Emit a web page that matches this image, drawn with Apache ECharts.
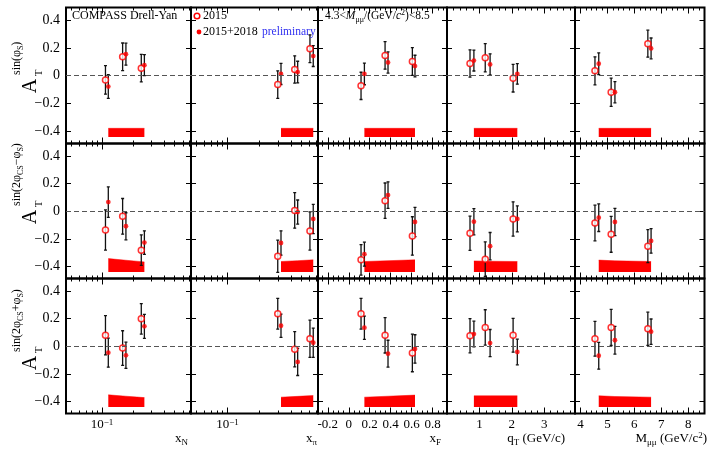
<!DOCTYPE html>
<html>
<head>
<meta charset="utf-8">
<script src="https://cdn.jsdelivr.net/npm/echarts@6/dist/echarts.min.js"></script>
<style>
html,body{margin:0;padding:0;background:#fff;}
#chart{width:708px;height:450px;}
</style>
</head>
<body>
<div id="chart"></div>
<script>
var SERIF = 'Liberation Serif';
var RED = '#ff0000';

// mean kinematic value of each bin (2015 / 2015+2018)
var xN_2015 = [0.108, 0.158, 0.239];
var xN_comb = [0.115, 0.170, 0.256];
var xPi_2015 = [0.299, 0.433, 0.604];
var xPi_comb = [0.321, 0.462, 0.649];
var xF_2015 = [0.117, 0.346, 0.606];
var xF_comb = [0.149, 0.374, 0.631];
var qT_2015 = [0.71, 1.18, 2.04];
var qT_comb = [0.83, 1.33, 2.17];
var mMuMu_2015 = [4.54, 5.14, 6.50];
var mMuMu_comb = [4.68, 5.28, 6.62];

// A_T^sin(phi_S), one inner array per column (xN, xPi, xF, qT, M)
var sinPhiS_2015 = [[-0.030, 0.136, 0.054], [-0.064, 0.045, 0.194], [-0.073, 0.146, 0.102], [0.088, 0.129, -0.018], [0.035, -0.119, 0.230]];
var sinPhiS_2015_err = [[0.103, 0.099, 0.099], [0.099, 0.098, 0.100], [0.098, 0.099, 0.100], [0.098, 0.102, 0.099], [0.101, 0.102, 0.097]];
var sinPhiS_comb = [[-0.078, 0.155, 0.076], [0.013, 0.026, 0.141], [0.013, 0.095, 0.069], [0.109, 0.081, 0.013], [0.086, -0.119, 0.196]];
var sinPhiS_comb_err = [[0.085, 0.079, 0.075], [0.076, 0.078, 0.075], [0.078, 0.076, 0.078], [0.075, 0.076, 0.074], [0.078, 0.076, 0.075]];
var sinPhiS_sys = [[0.062, 0.062, 0.062], [0.062, 0.062, 0.062], [0.062, 0.062, 0.062], [0.062, 0.062, 0.062], [0.062, 0.062, 0.062]];

// A_T^sin(2phi_CS - phi_S)
var sin2m_2015 = [[-0.136, -0.037, -0.282], [-0.326, 0.006, -0.143], [-0.352, 0.076, -0.179], [-0.160, -0.347, -0.056], [-0.085, -0.167, -0.253]];
var sin2m_2015_err = [[0.145, 0.129, 0.110], [0.117, 0.129, 0.138], [0.110, 0.128, 0.139], [0.124, 0.125, 0.124], [0.129, 0.130, 0.119]];
var sin2m_comb = [[0.066, -0.109, -0.227], [-0.230, -0.006, -0.056], [-0.311, 0.117, -0.078], [-0.076, -0.253, -0.056], [-0.047, -0.078, -0.215]];
var sin2m_comb_err = [[0.110, 0.098, 0.085], [0.088, 0.087, 0.106], [0.087, 0.096, 0.106], [0.095, 0.099, 0.094], [0.100, 0.099, 0.089]];
var sin2m_sys = [[0.097, 0.085, 0.073], [0.076, 0.082, 0.088], [0.076, 0.082, 0.088], [0.080, 0.078, 0.076], [0.086, 0.081, 0.076]];

// A_T^sin(2phi_CS + phi_S)
var sin2p_2015 = [[0.079, -0.013, 0.198], [0.235, -0.022, 0.054], [0.235, 0.079, -0.049], [0.076, 0.136, 0.079], [0.054, 0.136, 0.126]];
var sin2p_2015_err = [[0.142, 0.125, 0.110], [0.111, 0.128, 0.135], [0.111, 0.128, 0.136], [0.124, 0.128, 0.122], [0.126, 0.131, 0.120]];
var sin2p_comb = [[-0.047, -0.066, 0.144], [0.148, -0.114, 0.025], [0.134, -0.054, -0.020], [0.088, 0.023, -0.042], [-0.069, 0.043, 0.105]];
var sin2p_comb_err = [[0.105, 0.095, 0.087], [0.084, 0.098, 0.106], [0.084, 0.097, 0.103], [0.093, 0.098, 0.093], [0.097, 0.100, 0.092]];
var sin2p_sys = [[0.088, 0.078, 0.068], [0.071, 0.077, 0.083], [0.071, 0.078, 0.086], [0.081, 0.081, 0.081], [0.081, 0.076, 0.071]];

var sysBase = -0.44;
var yTickValues = [-0.4, -0.2, 0, 0.2, 0.4];

var x2015 = [xN_2015, xPi_2015, xF_2015, qT_2015, mMuMu_2015];
var xComb = [xN_comb, xPi_comb, xF_comb, qT_comb, mMuMu_comb];
var rows = [
  [sinPhiS_2015, sinPhiS_2015_err, sinPhiS_comb, sinPhiS_comb_err, sinPhiS_sys],
  [sin2m_2015, sin2m_2015_err, sin2m_comb, sin2m_comb_err, sin2m_sys],
  [sin2p_2015, sin2p_2015_err, sin2p_comb, sin2p_comb_err, sin2p_sys]
];

// layout
var gridLeft = [66, 191, 318, 447, 575];
var gridW = [125, 127, 129, 128, 129.5];
var gridTop = [7.5, 143.5, 278.5];
var gridH = [136, 135, 135];

var isLog = [true, true, false, false, false];
function tx(c, v) { return isLog[c] ? Math.log10(v) : v; }
var colRange = [
  [Math.log10(0.045), Math.log10(0.72)],
  [Math.log10(0.045), Math.log10(0.72)],
  [-0.293, 0.936],
  [0, 3.95],
  [3.8, 8.6]
];
function steps(a, b, s, skip) {
  var out = [];
  for (var v = a; v <= b + 1e-9; v += s) {
    var r = Math.round(v * 100) / 100;
    if (skip.indexOf(r) < 0) out.push(r);
  }
  return out;
}
var majorTicks = [[-1], [-1], [-0.2, 0, 0.2, 0.4, 0.6, 0.8], [1, 2, 3], [4, 5, 6, 7, 8]];
var logMinor = [0.05, 0.06, 0.07, 0.08, 0.09, 0.2, 0.3, 0.4, 0.5, 0.6, 0.7].map(Math.log10);
var minorTicks = [
  logMinor, logMinor,
  steps(-0.25, 0.9, 0.05, majorTicks[2]),
  steps(0.2, 3.8, 0.2, majorTicks[3]),
  steps(4.0, 8.4, 0.2, majorTicks[4])
];

function xLabelFmt(c) {
  return function (v) {
    if (c < 2) return '{b|10}{s|−1}';
    if (c === 2) return Math.abs(v) < 1e-9 ? '0' : v.toFixed(1);
    return String(v);
  };
}
function yLabelFmt(v) {
  if (Math.abs(v) < 1e-9) return '0';
  return (v < 0 ? '−' : '') + Math.abs(v).toFixed(1);
}

function renderErr(params, api) {
  var x = api.value(0), y = api.value(1), e = api.value(2);
  var top = api.coord([x, y + e]), bot = api.coord([x, y - e]);
  var w = 1.5;
  var st = { stroke: '#111', lineWidth: 1.3 };
  return {
    type: 'group',
    children: [
      { type: 'line', shape: { x1: top[0], y1: top[1], x2: bot[0], y2: bot[1] }, style: st },
      { type: 'line', shape: { x1: top[0] - w, y1: top[1], x2: top[0] + w, y2: top[1] }, style: st },
      { type: 'line', shape: { x1: bot[0] - w, y1: bot[1], x2: bot[0] + w, y2: bot[1] }, style: st }
    ]
  };
}

var grids = [], xAxes = [], yAxes = [], series = [];

function makeX(g, c, pos, major, withLabel) {
  return {
    type: 'value', gridIndex: g, position: pos, offset: 0,
    min: colRange[c][0], max: colRange[c][1],
    axisLine: { show: false, onZero: false },
    splitLine: { show: false },
    axisTick: {
      show: true, inside: true, length: major ? 6 : 3,
      customValues: major ? majorTicks[c] : minorTicks[c],
      lineStyle: { color: '#000', width: 1 }
    },
    axisLabel: withLabel ? {
      show: true, customValues: majorTicks[c], formatter: xLabelFmt(c),
      fontFamily: SERIF, fontSize: 13, color: '#000', margin: 5,
      rich: {
        b: { fontFamily: SERIF, fontSize: 13, color: '#000' },
        s: { fontFamily: SERIF, fontSize: 9, color: '#000', verticalAlign: 'top' }
      }
    } : { show: false }
  };
}
function makeY(g, c, pos, withLabel) {
  return {
    type: 'value', gridIndex: g, position: pos, offset: 0,
    min: -0.487, max: 0.49,
    axisLine: { show: false, onZero: false },
    splitLine: { show: false },
    axisTick: { show: true, inside: true, length: 5, customValues: yTickValues, lineStyle: { color: '#000', width: 1 } },
    axisLabel: withLabel ? {
      show: true, customValues: yTickValues, formatter: yLabelFmt,
      fontFamily: SERIF, fontSize: 14, color: '#000', margin: 6
    } : { show: false }
  };
}

for (var r = 0; r < 3; r++) {
  for (var c = 0; c < 5; c++) {
    var g = grids.length;
    grids.push({
      left: gridLeft[c], top: gridTop[r], width: gridW[c], height: gridH[r],
      show: true, borderColor: '#000', borderWidth: 2, backgroundColor: 'transparent',
      containLabel: false, outerBoundsMode: 'none'
    });
    var xa = xAxes.length, ya = yAxes.length;
    xAxes.push(makeX(g, c, 'bottom', true, r === 2));
    xAxes.push(makeX(g, c, 'bottom', false, false));
    xAxes.push(makeX(g, c, 'top', true, false));
    xAxes.push(makeX(g, c, 'top', false, false));
    yAxes.push(makeY(g, c, 'left', c === 0));
    yAxes.push(makeY(g, c, 'right', false));

    var d = rows[r];
    var v15 = d[0][c], e15 = d[1][c], vc = d[2][c], ec = d[3][c], sys = d[4][c];
    var xs15 = x2015[c], xsc = xComb[c];

    series.push({
      type: 'line', xAxisIndex: xa, yAxisIndex: ya, z: 1, silent: true,
      symbol: 'none', showSymbol: false,
      data: xsc.map(function (x, i) { return [tx(c, x), sysBase + sys[i]]; }),
      lineStyle: { width: 0.5, color: RED },
      areaStyle: { color: RED, opacity: 1, origin: sysBase },
      markLine: {
        silent: true, symbol: ['none', 'none'], label: { show: false },
        lineStyle: { type: [5, 3], color: '#555', width: 1 },
        data: [{ yAxis: 0 }]
      }
    });
    series.push({
      type: 'custom', xAxisIndex: xa, yAxisIndex: ya, z: 2, silent: true, clip: true,
      renderItem: renderErr, encode: { x: 0, y: 1 },
      data: xs15.map(function (x, i) { return [tx(c, x), v15[i], e15[i]]; })
    });
    series.push({
      type: 'custom', xAxisIndex: xa, yAxisIndex: ya, z: 2, silent: true, clip: true,
      renderItem: renderErr, encode: { x: 0, y: 1 },
      data: xsc.map(function (x, i) { return [tx(c, x), vc[i], ec[i]]; })
    });
    series.push({
      name: '2015', type: 'scatter', xAxisIndex: xa, yAxisIndex: ya, z: 3, silent: true,
      symbol: 'circle', symbolSize: 6,
      itemStyle: { color: '#fff', borderColor: RED, borderWidth: 1.5 },
      data: xs15.map(function (x, i) { return [tx(c, x), v15[i]]; })
    });
    series.push({
      name: '2015+2018', type: 'scatter', xAxisIndex: xa, yAxisIndex: ya, z: 3, silent: true,
      symbol: 'circle', symbolSize: 4.8,
      itemStyle: { color: RED },
      data: xsc.map(function (x, i) { return [tx(c, x), vc[i]]; })
    });
  }
}

// texts
var richN = { fontFamily: SERIF, fontSize: 12, color: '#000', lineHeight: 16 };
var richS = { fontFamily: SERIF, fontSize: 8, color: '#000', verticalAlign: 'bottom' };
var ySup = [
  '{n|sin(φ}{s|S}{n|)}',
  '{n|sin(2φ}{s|CS}{n|−φ}{s|S}{n|)}',
  '{n|sin(2φ}{s|CS}{n|+φ}{s|S}{n|)}'
];
var yTitleCenter = [86, 217, 363];

var graphics = [];
function txt(x, y, text, opts) {
  var st = {
    text: text, x: 0, y: 0, fill: opts.fill || '#000',
    font: (opts.size || 12) + 'px "' + SERIF + '"',
    align: opts.align || 'left', verticalAlign: opts.va || 'middle',
    textAlign: opts.align || 'left', textVerticalAlign: opts.va || 'middle'
  };
  if (opts.rich) st.rich = opts.rich;
  return { type: 'text', x: x, y: y, rotation: opts.rot || 0, silent: true, z: 10, style: st };
}

for (var i = 0; i < 3; i++) {
  var yc = yTitleCenter[i];
  graphics.push(txt(31, yc, 'A', { size: 20, align: 'center', rot: Math.PI / 2 }));
  graphics.push(txt(39, yc - 13, 'T', { size: 11, align: 'center', rot: Math.PI / 2 }));
  graphics.push(txt(17, yc - 11, ySup[i], { align: 'left', rot: Math.PI / 2, rich: { n: richN, s: richS } }));
}

var richT = {
  m: { fontFamily: SERIF, fontSize: 13, color: '#000', lineHeight: 16 },
  s: { fontFamily: SERIF, fontSize: 9, color: '#000', verticalAlign: 'bottom' },
  p: { fontFamily: SERIF, fontSize: 9, color: '#000', verticalAlign: 'top' }
};
graphics.push(txt(188, 439, '{m|x}{s|N}', { align: 'right', rich: richT }));
graphics.push(txt(317, 439, '{m|x}{s|π}', { align: 'right', rich: richT }));
graphics.push(txt(441, 439, '{m|x}{s|F}', { align: 'right', rich: richT }));
graphics.push(txt(565, 439, '{m|q}{s|T}{m| (GeV/c)}', { align: 'right', rich: richT }));
graphics.push(txt(707, 439, '{m|M}{s|μμ}{m| (GeV/c}{p|2}{m|)}', { align: 'right', rich: richT }));

graphics.push(txt(72, 16, 'COMPASS Drell-Yan', { size: 12 }));
graphics.push({ type: 'circle', shape: { cx: 197, cy: 16, r: 2.8 }, style: { fill: '#fff', stroke: RED, lineWidth: 1.5 }, z: 10, silent: true });
graphics.push(txt(203, 16, '2015', { size: 12 }));
graphics.push({ type: 'circle', shape: { cx: 199, cy: 32, r: 2.4 }, style: { fill: RED }, z: 10, silent: true });
graphics.push(txt(203, 32, '2015+2018', { size: 12 }));
graphics.push(txt(262, 32, 'preliminary', { size: 11.5, fill: '#3030f0' }));

var richH = {
  n: { fontFamily: SERIF, fontSize: 11.5, color: '#000', lineHeight: 15 },
  i: { fontFamily: SERIF, fontSize: 11.5, color: '#000', fontStyle: 'italic', lineHeight: 15 },
  s: { fontFamily: SERIF, fontSize: 8, color: '#000', verticalAlign: 'bottom' },
  p: { fontFamily: SERIF, fontSize: 8, color: '#000', verticalAlign: 'top' }
};
graphics.push(txt(325, 16, '{n|4.3<}{i|M}{s|μμ}{n|/(GeV/}{i|c}{p|2}{n|)<8.5}', { rich: richH }));

var chart = echarts.init(document.getElementById('chart'));
chart.setOption({
  animation: false,
  backgroundColor: '#fff',
  grid: grids,
  xAxis: xAxes,
  yAxis: yAxes,
  series: series,
  graphic: graphics
});
</script>
</body>
</html>
